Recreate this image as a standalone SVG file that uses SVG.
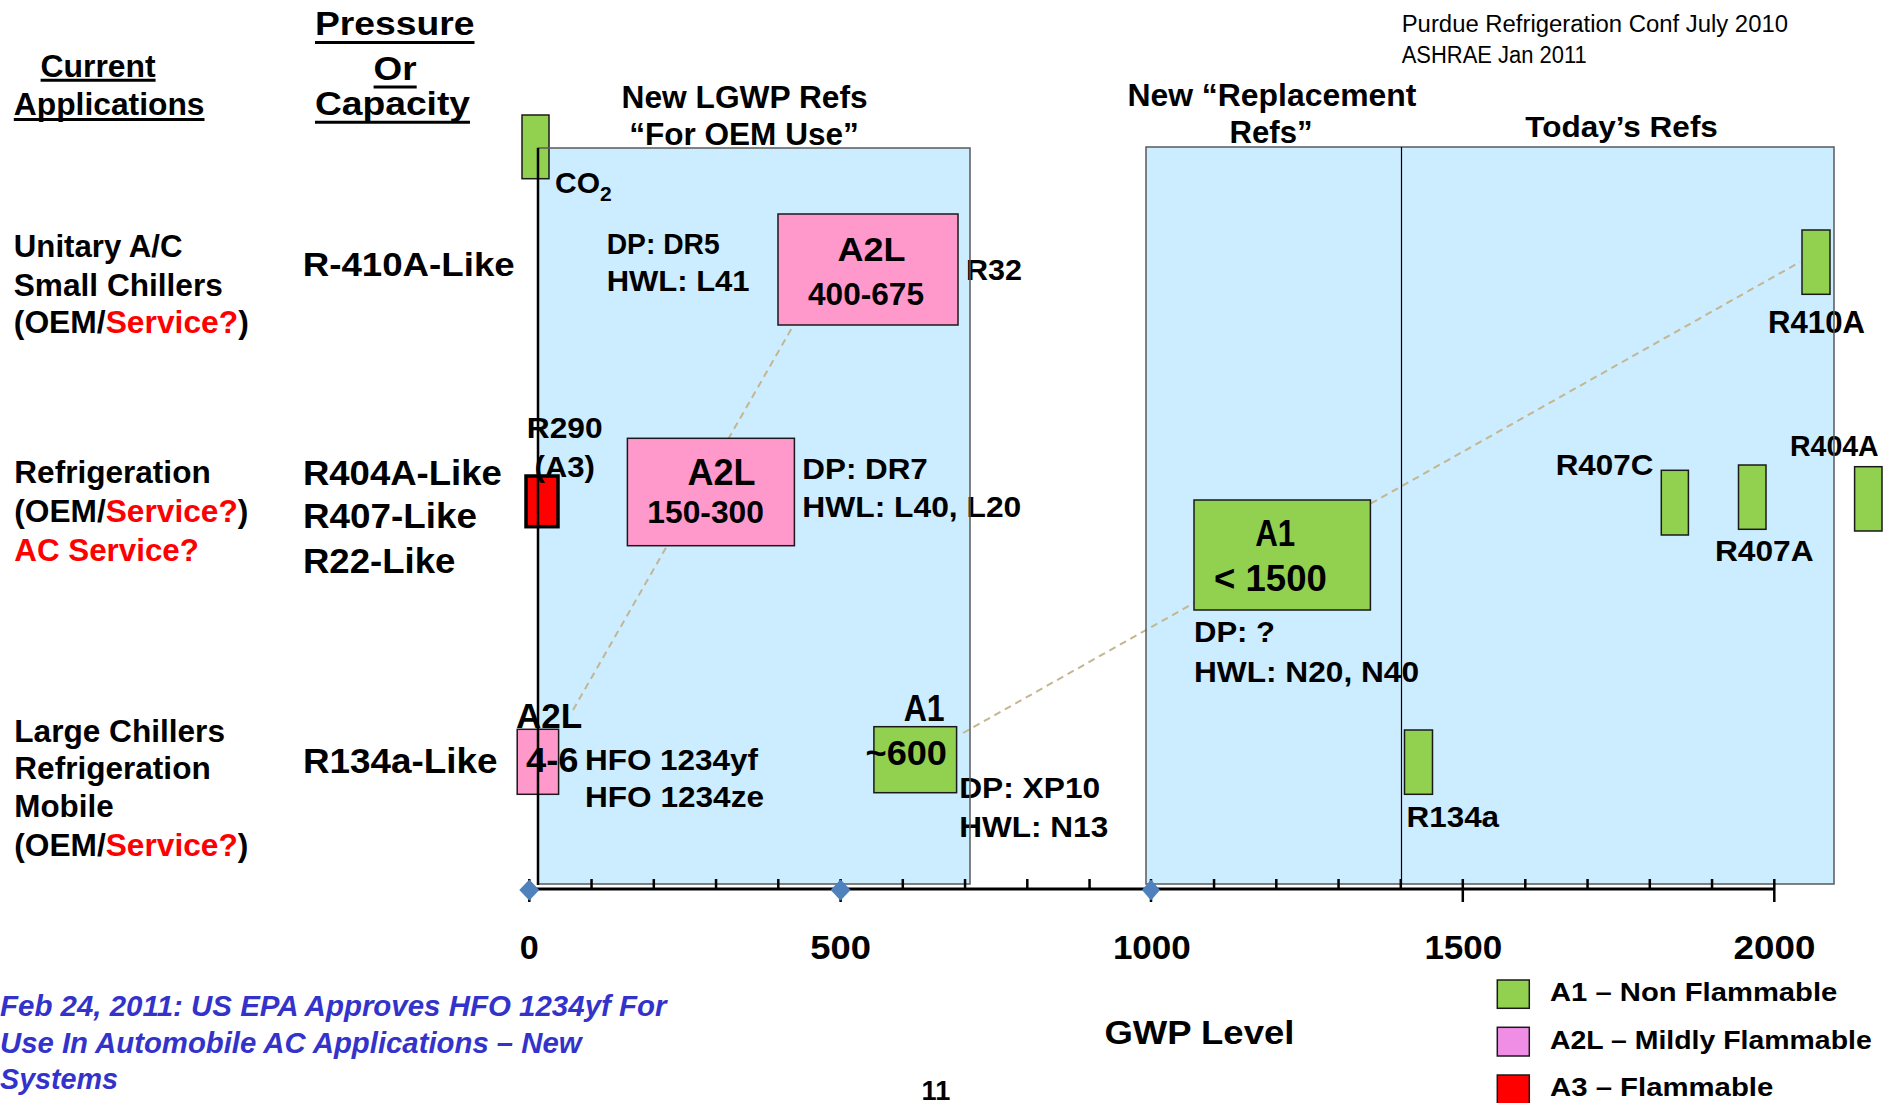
<svg xmlns="http://www.w3.org/2000/svg" width="1885" height="1103" viewBox="0 0 1885 1103">
  <style>
    text { font-family: "Liberation Sans", Arial, sans-serif; font-weight: bold; fill: #000; }
    .red { fill: #FF0000; }
    .foot { font-style: italic; fill: #3333CC; font-size: 29px; }
    .note { font-weight: normal; font-size: 23px; }
    .panel { fill: #CCECFF; }
    .edge { fill: none; stroke: #595959; stroke-width: 1.5; }
    .a1 { fill: #92D050; stroke: #1a1a1a; stroke-width: 1.5; }
    .a2l { fill: #FF99CC; stroke: #1a1a1a; stroke-width: 1.5; }
    .a3 { fill: #FF0000; stroke: #000; stroke-width: 3.5; }
    .dash { fill: none; stroke: #C4B690; stroke-width: 2; stroke-dasharray: 7 5; }
    .ul { stroke: #000; stroke-width: 3; }
    .tick { stroke: #000; stroke-width: 2.5; }
    .dia { fill: #4F81BD; }
  </style>

  <!-- shaded GWP bands -->
  <g id="bands">
    <rect class="panel" x="538" y="148" width="432" height="736"/>
    <rect class="panel" x="1146" y="147" width="688" height="737"/>
  </g>

  <!-- dashed trend lines between the refrigerant boxes -->
  <g id="connectors">
    <line class="dash" x1="573" y1="710" x2="793" y2="326"/>
    <line class="dash" x1="963" y1="733" x2="1800" y2="262"/>
  </g>

  <!-- column headings -->
  <g id="headings">
    <text x="40.6" y="76.7" font-size="31" textLength="115" lengthAdjust="spacingAndGlyphs">Current</text>
    <line class="ul" x1="40.6" y1="80.3" x2="155.6" y2="80.3"/>
    <text x="13.8" y="115" font-size="31" textLength="190.7" lengthAdjust="spacingAndGlyphs">Applications</text>
    <line class="ul" x1="13.8" y1="119.5" x2="204.5" y2="119.5"/>
    <text x="315" y="35" font-size="34" textLength="159.5" lengthAdjust="spacingAndGlyphs">Pressure</text>
    <line class="ul" x1="315" y1="42.5" x2="474.5" y2="42.5"/>
    <text x="373.6" y="80" font-size="34" textLength="43" lengthAdjust="spacingAndGlyphs">Or</text>
    <line class="ul" x1="373.6" y1="87" x2="416.7" y2="87"/>
    <text x="315" y="115" font-size="34" textLength="155" lengthAdjust="spacingAndGlyphs">Capacity</text>
    <line class="ul" x1="315" y1="122.3" x2="470" y2="122.3"/>

    <text x="621.6" y="108" font-size="31" textLength="246" lengthAdjust="spacingAndGlyphs">New LGWP Refs</text>
    <text x="629.2" y="145" font-size="31" textLength="229.6" lengthAdjust="spacingAndGlyphs">“For OEM Use”</text>
    <text x="1127.4" y="106" font-size="31" textLength="289" lengthAdjust="spacingAndGlyphs">New “Replacement</text>
    <text x="1229.5" y="142.7" font-size="31" textLength="83" lengthAdjust="spacingAndGlyphs">Refs”</text>
    <text x="1525.3" y="137.3" font-size="30" textLength="192.6" lengthAdjust="spacingAndGlyphs">Today’s Refs</text>

    <text class="note" x="1401.7" y="32.3" textLength="386.3" lengthAdjust="spacingAndGlyphs">Purdue Refrigeration Conf July 2010</text>
    <text class="note" x="1401.7" y="63.3" textLength="185" lengthAdjust="spacingAndGlyphs">ASHRAE Jan 2011</text>
  </g>

  <!-- application rows -->
  <g id="row-unitary">
    <text x="13.8" y="256.7" font-size="31" textLength="168.7" lengthAdjust="spacingAndGlyphs">Unitary A/C</text>
    <text x="13.8" y="296" font-size="31" textLength="209" lengthAdjust="spacingAndGlyphs">Small Chillers</text>
    <text x="13.8" y="332.7" font-size="31" textLength="235" lengthAdjust="spacingAndGlyphs">(OEM/<tspan class="red">Service?</tspan>)</text>
    <text x="302.7" y="275.7" font-size="33" textLength="212" lengthAdjust="spacingAndGlyphs">R-410A-Like</text>
  </g>
  <g id="row-refrigeration">
    <text x="14.3" y="483.3" font-size="31" textLength="196.4" lengthAdjust="spacingAndGlyphs">Refrigeration</text>
    <text x="14.3" y="522" font-size="31" textLength="234" lengthAdjust="spacingAndGlyphs">(OEM/<tspan class="red">Service?</tspan>)</text>
    <text class="red" x="14.3" y="561" font-size="31" textLength="184.6" lengthAdjust="spacingAndGlyphs">AC Service?</text>
    <text x="302.9" y="485" font-size="35" textLength="199" lengthAdjust="spacingAndGlyphs">R404A-Like</text>
    <text x="302.9" y="528" font-size="35" textLength="174" lengthAdjust="spacingAndGlyphs">R407-Like</text>
    <text x="302.9" y="573.3" font-size="35" textLength="152.5" lengthAdjust="spacingAndGlyphs">R22-Like</text>
  </g>
  <g id="row-chillers">
    <text x="14.3" y="741.7" font-size="31" textLength="210.7" lengthAdjust="spacingAndGlyphs">Large Chillers</text>
    <text x="14.3" y="779" font-size="31" textLength="196.4" lengthAdjust="spacingAndGlyphs">Refrigeration</text>
    <text x="14.3" y="817" font-size="31" textLength="99.3" lengthAdjust="spacingAndGlyphs">Mobile</text>
    <text x="14.3" y="855.7" font-size="31" textLength="234" lengthAdjust="spacingAndGlyphs">(OEM/<tspan class="red">Service?</tspan>)</text>
    <text x="303" y="773" font-size="35" textLength="194.6" lengthAdjust="spacingAndGlyphs">R134a-Like</text>
  </g>

  <!-- refrigerant nodes -->
  <g id="node-co2">
    <rect class="a1" x="522" y="115" width="27" height="63.7"/>
    <text x="555" y="193" font-size="30">CO<tspan x="600" y="201" font-size="21">2</tspan></text>
  </g>
  <g id="node-r32">
    <rect class="a2l" x="778" y="214" width="180" height="111"/>
    <text x="837.5" y="261" font-size="33" textLength="68" lengthAdjust="spacingAndGlyphs">A2L</text>
    <text x="808" y="305" font-size="32" textLength="116" lengthAdjust="spacingAndGlyphs">400-675</text>
    <text x="606.7" y="254.3" font-size="29" textLength="113" lengthAdjust="spacingAndGlyphs">DP: DR5</text>
    <text x="606.7" y="291" font-size="29" textLength="142.9" lengthAdjust="spacingAndGlyphs">HWL: L41</text>
    <text x="966" y="280" font-size="30" textLength="56" lengthAdjust="spacingAndGlyphs">R32</text>
  </g>
  <g id="node-r290">
    <rect class="a3" x="526" y="476" width="32" height="50.7"/>
    <text x="526.8" y="437.7" font-size="30" textLength="75.8" lengthAdjust="spacingAndGlyphs">R290</text>
    <text x="534.4" y="477" font-size="30" textLength="60.5" lengthAdjust="spacingAndGlyphs">(A3)</text>
  </g>
  <g id="node-a2l-150">
    <rect class="a2l" x="627.4" y="438.3" width="167" height="107.4"/>
    <text x="687.5" y="485" font-size="36" textLength="68" lengthAdjust="spacingAndGlyphs">A2L</text>
    <text x="647.3" y="523.3" font-size="31" textLength="116.7" lengthAdjust="spacingAndGlyphs">150-300</text>
    <text x="802.3" y="479" font-size="30" textLength="125.5" lengthAdjust="spacingAndGlyphs">DP: DR7</text>
    <text x="802.3" y="517.3" font-size="30" textLength="219" lengthAdjust="spacingAndGlyphs">HWL: L40, L20</text>
  </g>
  <g id="node-hfo">
    <rect class="a2l" x="517.2" y="729.3" width="41.4" height="65"/>
    <text x="516" y="728.3" font-size="35" textLength="66.3" lengthAdjust="spacingAndGlyphs">A2L</text>
    <text x="526" y="771.7" font-size="35" textLength="52.5" lengthAdjust="spacingAndGlyphs">4-6</text>
    <text x="585" y="770" font-size="30" textLength="173" lengthAdjust="spacingAndGlyphs">HFO 1234yf</text>
    <text x="585" y="807.3" font-size="30" textLength="179" lengthAdjust="spacingAndGlyphs">HFO 1234ze</text>
  </g>
  <g id="node-a1-600">
    <rect class="a1" x="873.9" y="726.7" width="82.7" height="66"/>
    <text x="903.7" y="720.7" font-size="36" textLength="41" lengthAdjust="spacingAndGlyphs">A1</text>
    <text x="865.5" y="765" font-size="35" textLength="81.5" lengthAdjust="spacingAndGlyphs">~600</text>
    <text x="959.2" y="798.3" font-size="30" textLength="141" lengthAdjust="spacingAndGlyphs">DP: XP10</text>
    <text x="959.2" y="836.7" font-size="30" textLength="149" lengthAdjust="spacingAndGlyphs">HWL: N13</text>
  </g>
  <g id="node-a1-1500">
    <rect class="a1" x="1194" y="500" width="176.4" height="110"/>
    <text x="1255.2" y="545.7" font-size="37" textLength="40" lengthAdjust="spacingAndGlyphs">A1</text>
    <text x="1214" y="590.7" font-size="36" textLength="112.8" lengthAdjust="spacingAndGlyphs">&lt; 1500</text>
    <text x="1194" y="641.7" font-size="30" textLength="81" lengthAdjust="spacingAndGlyphs">DP: ?</text>
    <text x="1194" y="681.7" font-size="30" textLength="225" lengthAdjust="spacingAndGlyphs">HWL: N20, N40</text>
  </g>
  <g id="node-r134a">
    <rect class="a1" x="1404.5" y="730" width="28" height="64.3"/>
    <text x="1406.5" y="826.7" font-size="30" textLength="92.6" lengthAdjust="spacingAndGlyphs">R134a</text>
  </g>
  <g id="node-r407c">
    <rect class="a1" x="1661.3" y="470.3" width="27.1" height="64.7"/>
    <text x="1555.7" y="475" font-size="30" textLength="97.6" lengthAdjust="spacingAndGlyphs">R407C</text>
  </g>
  <g id="node-r407a">
    <rect class="a1" x="1738.5" y="465" width="27.5" height="64.3"/>
    <text x="1715" y="561" font-size="30" textLength="98.6" lengthAdjust="spacingAndGlyphs">R407A</text>
  </g>
  <g id="node-r404a">
    <rect class="a1" x="1854.6" y="466.7" width="27.4" height="64.3"/>
    <text x="1790" y="456" font-size="30" textLength="88.7" lengthAdjust="spacingAndGlyphs">R404A</text>
  </g>
  <g id="node-r410a">
    <rect class="a1" x="1802" y="230" width="28" height="64.3"/>
    <text x="1768" y="333.3" font-size="31" textLength="97" lengthAdjust="spacingAndGlyphs">R410A</text>
  </g>

  <!-- band outlines, divider and pressure axis drawn over the content -->
  <g id="band-outlines">
    <rect class="edge" x="538" y="148" width="432" height="736"/>
    <rect class="edge" x="1146" y="147" width="688" height="737"/>
    <line x1="1401.5" y1="147" x2="1401.5" y2="884" stroke="#000" stroke-width="1.2"/>
    <line x1="538" y1="148" x2="538" y2="885" stroke="#000" stroke-width="2.5"/>
  </g>

  <!-- GWP axis -->
  <g id="gwp-axis">
    <line x1="529.3" y1="889" x2="1774.3" y2="889" stroke="#000" stroke-width="3.2"/>
    <g class="tick">
      <line x1="591.55" y1="879" x2="591.55" y2="889"/>
      <line x1="653.8" y1="879" x2="653.8" y2="889"/>
      <line x1="716.05" y1="879" x2="716.05" y2="889"/>
      <line x1="778.3" y1="879" x2="778.3" y2="889"/>
      <line x1="902.8" y1="879" x2="902.8" y2="889"/>
      <line x1="965.05" y1="879" x2="965.05" y2="889"/>
      <line x1="1027.3" y1="879" x2="1027.3" y2="889"/>
      <line x1="1089.55" y1="879" x2="1089.55" y2="889"/>
      <line x1="1214.05" y1="879" x2="1214.05" y2="889"/>
      <line x1="1276.3" y1="879" x2="1276.3" y2="889"/>
      <line x1="1338.55" y1="879" x2="1338.55" y2="889"/>
      <line x1="1400.8" y1="879" x2="1400.8" y2="889"/>
      <line x1="1525.3" y1="879" x2="1525.3" y2="889"/>
      <line x1="1587.55" y1="879" x2="1587.55" y2="889"/>
      <line x1="1649.8" y1="879" x2="1649.8" y2="889"/>
      <line x1="1712.05" y1="879" x2="1712.05" y2="889"/>
      <line x1="529.3" y1="879" x2="529.3" y2="902"/>
      <line x1="840.6" y1="879" x2="840.6" y2="902"/>
      <line x1="1151" y1="879" x2="1151" y2="902"/>
      <line x1="1462.8" y1="879" x2="1462.8" y2="902"/>
      <line x1="1774.3" y1="879" x2="1774.3" y2="902"/>
    </g>
    <polygon class="dia" points="529.3,879.5 539.3,890 529.3,900.5 519.3,890"/>
    <polygon class="dia" points="840.6,879.5 850.6,890 840.6,900.5 830.6,890"/>
    <polygon class="dia" points="1151,879.5 1160,890 1151,900.5 1142,890"/>
    <text x="519.8" y="959.3" font-size="34" textLength="19" lengthAdjust="spacingAndGlyphs">0</text>
    <text x="810.3" y="959.3" font-size="34" textLength="60.6" lengthAdjust="spacingAndGlyphs">500</text>
    <text x="1112.9" y="959.3" font-size="34" textLength="77.9" lengthAdjust="spacingAndGlyphs">1000</text>
    <text x="1424.4" y="959.3" font-size="34" textLength="77.9" lengthAdjust="spacingAndGlyphs">1500</text>
    <text x="1733.6" y="959.3" font-size="34" textLength="81.8" lengthAdjust="spacingAndGlyphs">2000</text>
    <text x="1104.4" y="1044.3" font-size="34" textLength="190" lengthAdjust="spacingAndGlyphs">GWP Level</text>
  </g>

  <!-- flammability legend -->
  <g id="legend">
    <rect x="1497.3" y="980" width="32" height="28.3" fill="#92D050" stroke="#1a1a1a" stroke-width="1.5"/>
    <rect x="1497.3" y="1027.3" width="32" height="28.7" fill="#F08EE6" stroke="#1a1a1a" stroke-width="1.5"/>
    <rect x="1497.3" y="1075" width="32" height="30" fill="#FF0000" stroke="#1a1a1a" stroke-width="1.5"/>
    <text x="1550" y="1000.7" font-size="26" textLength="287.3" lengthAdjust="spacingAndGlyphs">A1 – Non Flammable</text>
    <text x="1550" y="1049" font-size="26" textLength="321.7" lengthAdjust="spacingAndGlyphs">A2L – Mildly Flammable</text>
    <text x="1550" y="1096" font-size="26" textLength="223.3" lengthAdjust="spacingAndGlyphs">A3 – Flammable</text>
  </g>

  <!-- footnote and page number -->
  <g id="footnote">
    <text class="foot" x="0" y="1016" textLength="666.5" lengthAdjust="spacingAndGlyphs">Feb 24, 2011: US EPA Approves HFO 1234yf For</text>
    <text class="foot" x="0" y="1052.7" textLength="581.6" lengthAdjust="spacingAndGlyphs">Use In Automobile AC Applications – New</text>
    <text class="foot" x="0" y="1089" textLength="118" lengthAdjust="spacingAndGlyphs">Systems</text>
    <text x="921.6" y="1100" font-size="27" textLength="28.7" lengthAdjust="spacingAndGlyphs">11</text>
  </g>
</svg>
